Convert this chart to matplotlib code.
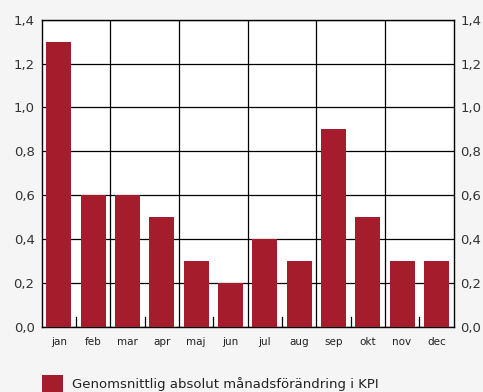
import numpy as np
import matplotlib.pyplot as plt
from matplotlib.patches import Patch
from matplotlib.ticker import MultipleLocator, FuncFormatter

months = ["jan", "feb", "mar", "apr", "maj", "jun",
          "jul", "aug", "sep", "okt", "nov", "dec"]
kpi_change = [1.3, 0.6, 0.6, 0.5, 0.3, 0.2, 0.4, 0.3, 0.9, 0.5, 0.3, 0.3]
legend_label = "Genomsnittlig absolut månadsförändring i KPI"

bar_color = "#a51c2c"
bg_color = "#f5f5f5"

fig = plt.figure(figsize=(4.83, 3.92), dpi=100, facecolor=bg_color)
ax = fig.add_axes([0.086, 0.166, 0.853, 0.784])
ax.set_facecolor("white")

x = np.arange(len(months))
ax.bar(x, kpi_change, width=0.73, color=bar_color, zorder=3)

ax.set_xlim(-0.5, len(months) - 0.5)
ax.set_ylim(0, 1.4)

# horizontal grid every 0,2
ax.yaxis.set_major_locator(MultipleLocator(0.2))
ax.yaxis.set_major_formatter(FuncFormatter(lambda v, p: f"{v:.1f}".replace(".", ",")))
ax.grid(axis="y", color="black", lw=0.9, zorder=2)

# vertical lines between every second month, short ticks between the others
for b in np.arange(1.5, len(months) - 1, 2):
    ax.axvline(b, color="black", lw=0.9, zorder=2)
for b in np.arange(0.5, len(months), 2):
    ax.plot([b, b], [0, 0.045], color="black", lw=0.9, zorder=4)

ax.set_xticks(x)
ax.set_xticklabels(months, fontsize=7.5, color="#222222")
ax.tick_params(axis="x", length=0, pad=7)
ax.tick_params(axis="y", length=0, labelsize=9.5, labelcolor="#333333",
               labelright=True, pad=5)

for s in ax.spines.values():
    s.set_color("black")
    s.set_linewidth(1)

fig.legend(handles=[Patch(facecolor=bar_color, label=legend_label)],
           loc="lower left", bbox_to_anchor=(0.062, -0.03), frameon=False,
           fontsize=9.5, handlelength=1.6, handleheight=1.6, handletextpad=0.7,
           labelcolor="#222222")

fig.savefig("out.png", dpi=100, facecolor=bg_color)
